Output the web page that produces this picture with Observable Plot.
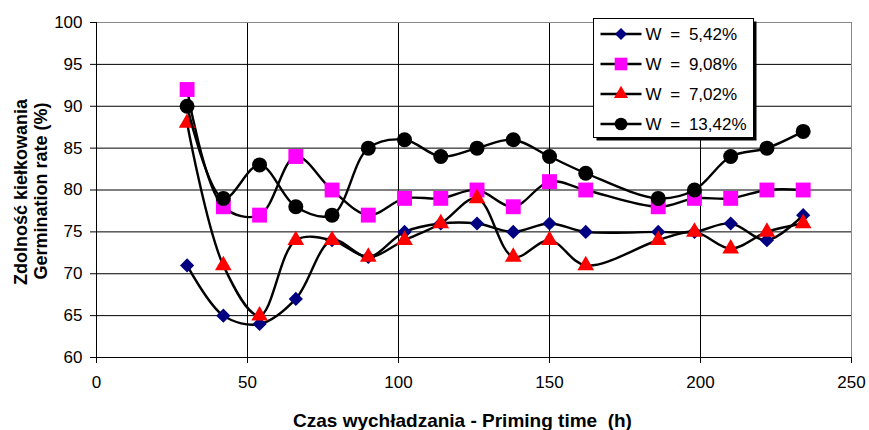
<!DOCTYPE html>
<html>
<head>
<meta charset="utf-8">
<script src="https://cdn.jsdelivr.net/npm/d3@7"></script>
<script src="https://cdn.jsdelivr.net/npm/@observablehq/plot@0.6"></script>
<style>
  html, body { margin: 0; padding: 0; background: #fff; }
  #chart svg { display: block; }
</style>
</head>
<body>
<div id="chart"></div>
<script>
// Priming time (h) at which germination was measured
const hours = [30, 42, 54, 66, 78, 90, 102, 114, 126, 138, 150, 162, 186, 198, 210, 222, 234];

// Germination rate (%) for each seed moisture content W
const w542  = [71, 65, 64, 67, 74, 72, 75, 76, 76, 75, 76, 75, 75, 75, 76, 74, 77];
const w908  = [92, 78, 77, 84, 80, 77, 79, 79, 80, 78, 81, 80, 78, 79, 79, 80, 80];
const w702  = [88, 71, 65, 74, 74, 72, 74, 76, 79, 72, 74, 71, 74, 75, 73, 75, 76];
const w1342 = [90, 79, 83, 78, 77, 85, 86, 84, 85, 86, 84, 82, 79, 80, 84, 85, 87];

const seriesNames = ["W = 5,42%", "W = 9,08%", "W = 7,02%", "W = 13,42%"];
const seriesValues = [w542, w908, w702, w1342];
const seriesColors = ["#000080", "#ff00ff", "#ff0000", "#000000"];
const seriesSymbols = ["diamond2", "square", "triangle", "circle"];
const seriesRadius = [6.4, 8.4, 6.2, 7.5];

const yTicks = [60, 65, 70, 75, 80, 85, 90, 95, 100];
const xTicks = [0, 50, 100, 150, 200, 250];

const yTitle = ["Zdolność kiełkowania", "Germination rate (%)"];
const xTitle = "Czas wychładzania - Priming time  (h)";

const series = seriesNames.map((name, k) => ({
  name,
  color: seriesColors[k],
  symbol: seriesSymbols[k],
  r: seriesRadius[k],
  rows: hours.map((h, i) => ({ h, v: seriesValues[k][i] }))
}));

const font = "'Liberation Sans', Arial, sans-serif";

const marks = [
  // inner grid
  Plot.ruleY(yTicks.filter(d => d > 60 && d < 100), { stroke: "#000", strokeWidth: 1 }),
  Plot.ruleX(xTicks.filter(d => d > 0 && d < 250), { stroke: "#000", strokeWidth: 1 }),
  // plot-area border (top and right)
  Plot.ruleY([100], { stroke: "#888", strokeWidth: 1 }),
  Plot.ruleX([250], { stroke: "#888", strokeWidth: 1 }),
  // axis lines
  Plot.ruleX([0], { stroke: "#000", strokeWidth: 1 }),
  Plot.ruleY([60], { stroke: "#000", strokeWidth: 1 }),
  Plot.axisY({ ticks: yTicks, tickSize: 6, tickPadding: 8, label: null, fontSize: 17 }),
  Plot.axisX({ ticks: xTicks, tickSize: 6, tickPadding: 12, label: null, fontSize: 17 })
];

for (const s of series) {
  marks.push(Plot.line(s.rows, {
    x: "h", y: "v", curve: "catmull-rom", stroke: "#000", strokeWidth: 2.4
  }));
  marks.push(Plot.dot(s.rows, {
    x: "h", y: "v", symbol: s.symbol, r: s.r, fill: s.color, stroke: "none"
  }));
}

// axis titles
marks.push(Plot.text([yTitle[0]], {
  frameAnchor: "left", text: d => d, rotate: -90, dx: -75, dy: 2,
  fontWeight: "bold", fontSize: 18, lineAnchor: "middle", textAnchor: "middle"
}));
marks.push(Plot.text([yTitle[1]], {
  frameAnchor: "left", text: d => d, rotate: -90, dx: -55, dy: 1,
  fontWeight: "bold", fontSize: 18, lineAnchor: "middle", textAnchor: "middle"
}));
marks.push(Plot.text([xTitle], {
  frameAnchor: "bottom", text: d => d, dx: -11.5, dy: 63,
  fontWeight: "bold", fontSize: 19, lineAnchor: "middle", textAnchor: "middle"
}));

const chart = Plot.plot({
  width: 869,
  height: 430,
  marginLeft: 96,
  marginRight: 18,
  marginTop: 22,
  marginBottom: 73,
  style: { fontFamily: font, fontSize: "17px", color: "#000", background: "#fff", overflow: "visible" },
  x: { domain: [0, 250] },
  y: { domain: [60, 100] },
  marks
});

// legend box with drop shadow
const svg = d3.select(chart);
const lg = svg.append("g").attr("transform", "translate(593.5,18.5)");
lg.append("rect").attr("x", 3).attr("y", 3).attr("width", 160).attr("height", 119).attr("fill", "#000");
lg.append("rect").attr("width", 160).attr("height", 119).attr("fill", "#fff").attr("stroke", "#000").attr("stroke-width", 1);
const symbolMap = { diamond2: d3.symbolDiamond2, square: d3.symbolSquare, triangle: d3.symbolTriangle, circle: d3.symbolCircle };
series.forEach((s, i) => {
  const row = lg.append("g").attr("transform", `translate(0,${15.5 + i * 30})`);
  row.append("line").attr("x1", 7).attr("x2", 48).attr("stroke", "#000").attr("stroke-width", 2.4);
  const size = Math.PI * s.r * s.r * 0.72;
  row.append("path").attr("transform", "translate(27.5,0)")
    .attr("d", d3.symbol(symbolMap[s.symbol], size)()).attr("fill", s.color);
  row.append("text").attr("x", 52).attr("dy", "0.35em")
    .attr("text-anchor", "start")
    .style("font-family", font).style("font-size", "17px").style("word-spacing", "4px")
    .attr("fill", "#000").text(s.name);
});

document.getElementById("chart").appendChild(chart);
</script>
</body>
</html>
